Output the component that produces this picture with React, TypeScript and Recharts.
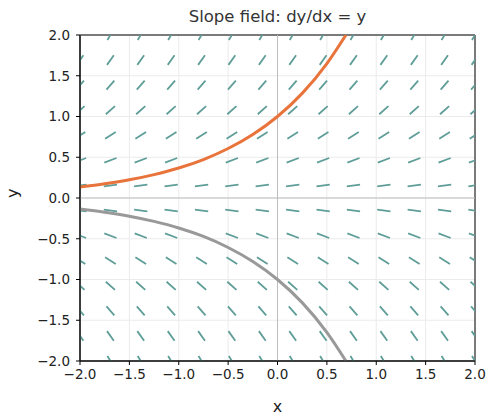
import {
  LineChart,
  Line,
  XAxis,
  YAxis,
  CartesianGrid,
  ReferenceLine,
  ReferenceArea,
} from 'recharts';

// grid of sample points for the slope field (14 x 14)
const gridX = [-2, -1.692, -1.385, -1.077, -0.769, -0.462, -0.154, 0.154, 0.462, 0.769, 1.077, 1.385, 1.692, 2];
const gridY = [-2, -1.692, -1.385, -1.077, -0.769, -0.462, -0.154, 0.154, 0.462, 0.769, 1.077, 1.385, 1.692, 2];

// solution curves
const upperX = [-2, -1.75, -1.5, -1.25, -1, -0.75, -0.5, -0.25, 0, 0.25, 0.5, 0.693];
const upperY = [0.135, 0.174, 0.223, 0.287, 0.368, 0.472, 0.607, 0.779, 1.0, 1.284, 1.649, 2.0];
const lowerX = [-2, -1.75, -1.5, -1.25, -1, -0.75, -0.5, -0.25, 0, 0.25, 0.5, 0.693];
const lowerY = [-0.135, -0.174, -0.223, -0.287, -0.368, -0.472, -0.607, -0.779, -1.0, -1.284, -1.649, -2.0];

const ticks = [-2, -1.5, -1, -0.5, 0, 0.5, 1, 1.5, 2];

const halfLen = 0.068;

// segments: slope dy/dx = y, normalised in data units, split with nulls
const segments: { x: number; y: number | null }[] = [];
gridX.forEach((cx) => {
  gridY.forEach((cy) => {
    const s = cy;
    const dx = halfLen / Math.sqrt(1 + s * s);
    const dy = s * dx;
    segments.push({ x: cx - dx, y: cy - dy });
    segments.push({ x: cx + dx, y: cy + dy });
    segments.push({ x: cx, y: null });
  });
});

const upper = upperX.map((x, i) => ({ x, y: upperY[i] }));
const lower = lowerX.map((x, i) => ({ x, y: lowerY[i] }));

const fmt = (v: number) => v.toFixed(1).replace('-', '\u2212');

const tickStyle = { fontSize: 13.5, fill: '#222', fontFamily: 'DejaVu Sans' };

const App = () => {
  return (
    <div style={{ position: 'absolute', left: 0, top: 0, fontFamily: 'DejaVu Sans' }}>
      <div
        style={{
          position: 'absolute',
          left: 80,
          width: 395,
          top: 7,
          textAlign: 'center',
          fontSize: 16.5,
          color: '#333',
        }}
      >
        Slope field: dy/dx = y
      </div>
      <LineChart width={488} height={416} margin={{ top: 35, right: 13, left: 30, bottom: 5 }}>
        <CartesianGrid stroke="#ebebeb" horizontalValues={ticks} verticalValues={ticks} />
        <XAxis
          type="number"
          dataKey="x"
          domain={[-2, 2]}
          ticks={ticks}
          allowDataOverflow
          tickFormatter={fmt}
          tick={tickStyle}
          tickSize={4}
          tickMargin={4}
          stroke="#000"
          height={50}
          label={{ value: 'x', position: 'insideBottom', offset: -1, fontSize: 16, fill: '#222' }}
        />
        <YAxis
          type="number"
          dataKey="y"
          domain={[-2, 2]}
          ticks={ticks}
          allowDataOverflow
          tickFormatter={fmt}
          tick={tickStyle}
          tickSize={4}
          tickMargin={6}
          stroke="#000"
          width={50}
          label={{ value: 'y', angle: -90, position: 'insideLeft', offset: -18, fontSize: 16, fill: '#222' }}
        />
        <ReferenceLine x={0} stroke="#bdbdbd" strokeWidth={1} />
        <ReferenceLine y={0} stroke="#bdbdbd" strokeWidth={1} />
        <Line
          data={segments}
          dataKey="y"
          stroke="#5f9e98"
          strokeWidth={1.8}
          dot={false}
          connectNulls={false}
          isAnimationActive={false}
        />
        <Line
          data={upper}
          dataKey="y"
          type="monotone"
          stroke="#e8743b"
          strokeWidth={3}
          dot={false}
          isAnimationActive={false}
        />
        <Line
          data={lower}
          dataKey="y"
          type="monotone"
          stroke="#999999"
          strokeWidth={3}
          dot={false}
          isAnimationActive={false}
        />
        <ReferenceArea x1={-2} x2={2} y1={-2} y2={2} fill="none" stroke="#000" strokeWidth={1} fillOpacity={0} />
      </LineChart>
    </div>
  );
};

export default App;
